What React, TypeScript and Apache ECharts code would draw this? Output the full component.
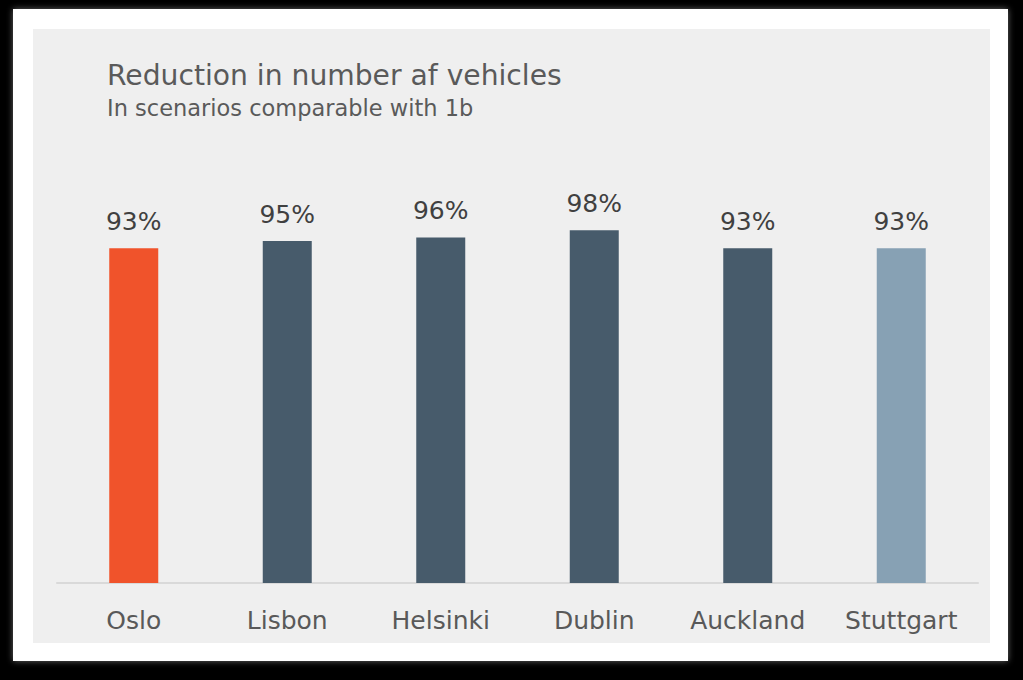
import React, { useEffect, useRef } from "react";
import * as echarts from "echarts";

const categories = ["Oslo", "Lisbon", "Helsinki", "Dublin", "Auckland", "Stuttgart"];
const values = [93, 95, 96, 98, 93, 93];
const barColors = ["#F0532B", "#475B6B", "#475B6B", "#475B6B", "#475B6B", "#87A1B4"];
const titleText = "Reduction in number af vehicles";
const subtitleText = "In scenarios comparable with 1b";

export default function App() {
  const ref = useRef<HTMLDivElement>(null);
  useEffect(() => {
    if (!ref.current) return;
    const chart = echarts.init(ref.current, undefined, { renderer: "svg" });
    const font = "DejaVu Sans";
    chart.setOption({
      animation: false,
      backgroundColor: "#000000",
      graphic: [
        {
          type: "rect",
          z: -10,
          shape: { x: 13, y: 9, width: 995, height: 652 },
          style: { fill: "#ffffff", shadowBlur: 6, shadowColor: "rgba(255,255,255,0.4)" },
          silent: true,
        },
        {
          type: "rect",
          z: -9,
          shape: { x: 33, y: 29, width: 957, height: 614 },
          style: { fill: "#EFEFEF" },
          silent: true,
        },
      ],
      title: [
        {
          text: titleText,
          left: 102,
          top: 56,
          textStyle: { fontFamily: font, fontSize: 28.2, fontWeight: "normal", color: "#5A5A5A" },
        },
        {
          text: subtitleText,
          left: 102,
          top: 91,
          textStyle: { fontFamily: font, fontSize: 22.5, fontWeight: "normal", color: "#5A5A5A" },
        },
      ],
      grid: { left: 57, right: 45, top: 223, bottom: 97 },
      xAxis: {
        type: "category",
        data: categories,
        axisLine: { lineStyle: { color: "#D9D9D9", width: 2 } },
        axisTick: { show: false },
        axisLabel: { fontFamily: font, fontSize: 25, color: "#595959", margin: 25 },
      },
      yAxis: {
        type: "value",
        min: 0,
        max: 100,
        show: false,
        splitLine: { show: false },
      },
      series: [
        {
          type: "bar",
          data: values.map((v, i) => ({ value: v, itemStyle: { color: barColors[i] } })),
          barWidth: 49,
          label: {
            show: true,
            position: "top",
            distance: 14,
            formatter: "{c}%",
            fontFamily: font,
            fontSize: 25,
            color: "#404040",
          },
        },
      ],
    });
    return () => chart.dispose();
  }, []);
  return (
    <div
      ref={ref}
      style={{ position: "absolute", left: 0, top: 0, width: 1023, height: 680 }}
    />
  );
}
